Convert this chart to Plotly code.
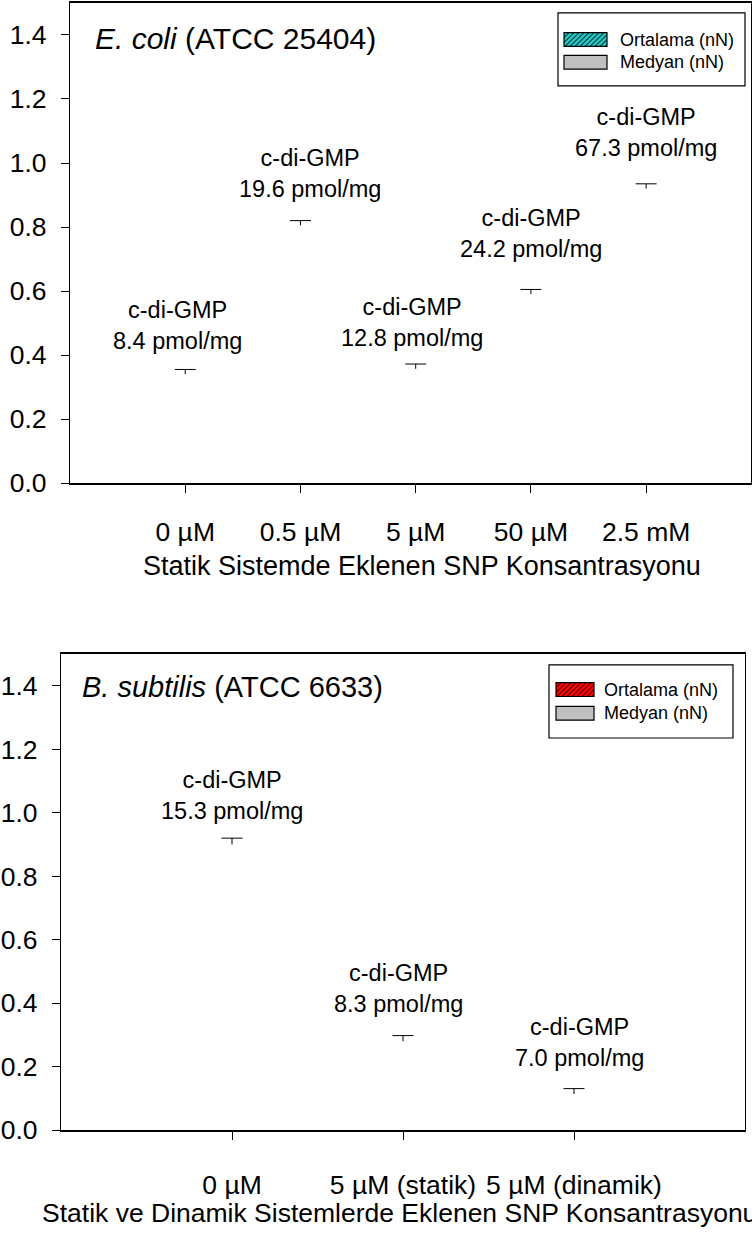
import plotly.graph_objects as go

# ---- data -------------------------------------------------------------
ecoli_labels = ["0 µM", "0.5 µM", "5 µM", "50 µM", "2.5 mM"]
ecoli_mean = [0.340, 0.805, 0.357, 0.590, 0.920]
ecoli_err = [0.015, 0.015, 0.015, 0.015, 0.015]
ecoli_cdigmp = [8.4, 19.6, 12.8, 24.2, 67.3]

bsub_labels = ["0 µM", "5 µM (statik)", "5 µM (dinamik)"]
bsub_mean = [0.900, 0.280, 0.114]
bsub_err = [0.020, 0.018, 0.017]
bsub_cdigmp = [15.3, 8.3, 7.0]

# label placement (pixel offsets of each c-di-GMP note from its error cap)
ecoli_note_dy = [44, 47, 42, 56, 51]
ecoli_note_dx = [-8, 10, -4, 0, 0]
bsub_note_dy = [43, 47, 46]
bsub_note_dx = [0, -5, 5]

W, H = 752, 1243
FONT = "Liberation Sans, Arial, sans-serif"


def px(x):
    return x / W


def py(y):
    return 1 - y / H


fig = go.Figure()

# ---- panels -----------------------------------------------------------
panels = [
    dict(xa="x", ya="y", labels=ecoli_labels, mean=ecoli_mean, err=ecoli_err,
         note=ecoli_cdigmp, dy=ecoli_note_dy, dx=ecoli_note_dx,
         xdom=[px(70), px(751)], ydom=[py(489), py(3)], xmax=5.91, standoff=16),
    dict(xa="x2", ya="y2", labels=bsub_labels, mean=bsub_mean, err=bsub_err,
         note=bsub_cdigmp, dy=bsub_note_dy, dx=bsub_note_dx,
         xdom=[px(61), px(745)], ydom=[py(1144), py(662)], xmax=4.0, standoff=22),
]

annotations = []
for i, p in enumerate(panels):
    xs = list(range(1, len(p["labels"]) + 1))
    n = len(xs)
    # unfilled bars carrying the upward error stem
    fig.add_trace(go.Bar(
        x=xs, y=p["mean"], xaxis=p["xa"], yaxis=p["ya"], width=0.6,
        marker=dict(color="rgba(0,0,0,0)", line=dict(width=0)),
        error_y=dict(type="data", symmetric=False, array=p["err"],
                     arrayminus=[0] * n, color="black", thickness=1, width=0),
        showlegend=False, hoverinfo="skip"))
    # cross-bar at the top of each error stem
    caps = [m + e for m, e in zip(p["mean"], p["err"])]
    fig.add_trace(go.Scatter(
        x=xs, y=caps, xaxis=p["xa"], yaxis=p["ya"], mode="markers",
        marker=dict(symbol="line-ew", size=15, color="black",
                    line=dict(color="black", width=1)),
        showlegend=False, hoverinfo="skip"))
    for xv, c, nv, dy, dx in zip(xs, caps, p["note"], p["dy"], p["dx"]):
        annotations.append(dict(
            x=xv, y=c, xref=p["xa"], yref=p["ya"],
            text=f"c-di-GMP<br>{nv:.1f} pmol/mg", showarrow=False,
            xanchor="center", yanchor="middle", xshift=dx, yshift=dy,
            font=dict(family=FONT, size=23.5, color="black")))

    axis_common = dict(showline=True, linecolor="black", mirror=True,
                       ticks="outside", ticklen=8, tickwidth=1, tickcolor="black",
                       showgrid=False, zeroline=False,
                       tickfont=dict(family=FONT, size=26.5, color="black"))
    xkey = "xaxis" if i == 0 else "xaxis2"
    ykey = "yaxis" if i == 0 else "yaxis2"
    fig.update_layout(**{
        xkey: dict(axis_common, domain=p["xdom"], range=[0, p["xmax"]],
                   tickvals=xs, ticktext=p["labels"], linewidth=1.8,
                   anchor=p["ya"], ticklabelstandoff=p["standoff"]),
        ykey: dict(axis_common, domain=p["ydom"], range=[0, 1.5],
                   tickvals=[0, 0.2, 0.4, 0.6, 0.8, 1.0, 1.2, 1.4],
                   tickformat=".1f", linewidth=1.2, anchor=p["xa"],
                   ticklabelstandoff=9),
    })

# panel titles
annotations.append(dict(x=px(93), y=py(39), xref="paper", yref="paper",
                        text="<i>E. coli</i> (ATCC 25404)", showarrow=False,
                        xanchor="left", yanchor="middle",
                        font=dict(family=FONT, size=30, color="black")))
annotations.append(dict(x=px(80), y=py(695), xref="paper", yref="paper",
                        text="<i>B. subtilis</i> (ATCC 6633)", showarrow=False,
                        xanchor="left", yanchor="middle",
                        font=dict(family=FONT, size=29, color="black")))

# axis titles
annotations.append(dict(x=px(141), y=py(573), xref="paper", yref="paper",
                        text="Statik Sistemde Eklenen SNP Konsantrasyonu",
                        showarrow=False, xanchor="left", yanchor="middle",
                        font=dict(family=FONT, size=27, color="black")))
annotations.append(dict(x=px(40), y=py(1228), xref="paper", yref="paper",
                        text="Statik ve Dinamik Sistemlerde Eklenen SNP Konsantrasyonu",
                        showarrow=False, xanchor="left", yanchor="middle",
                        font=dict(family=FONT, size=26.5, color="black")))

# ---- legends ----------------------------------------------------------
shapes = []


def hatch(x0, y0, x1, y1, step=5):
    """Diagonal '/' hatch lines clipped to the pixel box (x0,y0)-(x1,y1)."""
    h = y1 - y0
    out = []
    k = x0 - h
    while k < x1:
        ax, ay = k, y1
        bx, by = k + h, y0
        if ax < x0:
            ay = y1 - (x0 - ax)
            ax = x0
        if bx > x1:
            by = y0 + (bx - x1)
            bx = x1
        if bx > ax:
            out.append(dict(type="line", xref="paper", yref="paper",
                            x0=px(ax), y0=py(ay), x1=px(bx), y1=py(by),
                            line=dict(color="black", width=1), layer="above"))
        k += step
    return out


def legend_box(box, sw_x0, sw_x1, rows, text_x, fill):
    bx0, by0, bx1, by1 = box
    shapes.append(dict(type="rect", xref="paper", yref="paper",
                       x0=px(bx0), y0=py(by1), x1=px(bx1), y1=py(by0),
                       line=dict(color="black", width=1.2), fillcolor="white",
                       layer="above"))
    items = [("Ortalama (nN)", fill, True), ("Medyan (nN)", "#c0c0c0", False)]
    for (label, color, hatched), yc in zip(items, rows):
        shapes.append(dict(type="rect", xref="paper", yref="paper",
                           x0=px(sw_x0), y0=py(yc + 7), x1=px(sw_x1), y1=py(yc - 7),
                           fillcolor=color, line=dict(width=0), layer="above"))
        if hatched:
            shapes.extend(hatch(sw_x0, yc - 7, sw_x1, yc + 7))
        shapes.append(dict(type="rect", xref="paper", yref="paper",
                           x0=px(sw_x0), y0=py(yc + 7), x1=px(sw_x1), y1=py(yc - 7),
                           line=dict(color="black", width=1.2), layer="above"))
        annotations.append(dict(x=px(text_x), y=py(yc), xref="paper", yref="paper",
                                text=label, showarrow=False, xanchor="left",
                                yanchor="middle",
                                font=dict(family=FONT, size=18, color="black")))


legend_box((558, 13, 745, 87), 564, 607, [40, 63], 618, "#22c4c4")
legend_box((549, 673, 733, 747), 556, 594, [698, 722], 602, "#ff0000")

fig.update_layout(
    width=W, height=H, autosize=False,
    margin=dict(l=0, r=0, t=0, b=0),
    paper_bgcolor="white", plot_bgcolor="white",
    barmode="overlay",
    annotations=annotations, shapes=shapes,
    font=dict(family=FONT, color="black"),
)

fig.write_html("out.html")
